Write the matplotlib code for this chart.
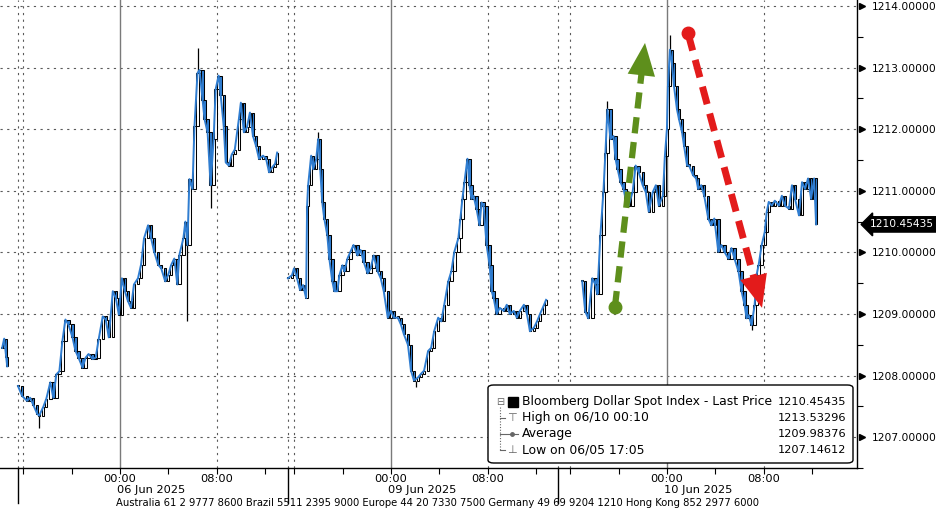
import numpy as np
import matplotlib.pyplot as plt
from matplotlib.patches import FancyBboxPatch
from matplotlib.lines import Line2D
from matplotlib.transforms import blended_transform_factory

plt.rcParams['font.family'] = ['DejaVu Sans']

# Bloomberg intraday axis: hours from 00:00 06 Jun, overnight/weekend gaps squeezed out
session_start = [-30.74, -8.43, 13.88, 36.2]
midnights = [0.0, 22.4, 45.2]
date_labels = ['06 Jun 2025', '09 Jun 2025', '10 Jun 2025']

# 5-minute bar index inside each session and the close of that bar
bars0 = [252, 254, 256, 257]
close0 = [1208.45, 1208.60, 1208.30, 1208.15]

bars1 = [0, 4, 9, 12, 15, 19, 21, 25, 28, 32, 35, 38, 41, 44, 47, 50, 54, 57, 60, 64,
         67, 70, 74, 77, 80, 84, 87, 90, 94, 97, 100, 103, 106, 109, 112, 115, 119, 122, 125, 129,
         132, 135, 139, 142, 146, 149, 152, 155, 158, 160, 164, 166, 168, 170, 173, 175, 178, 180, 183, 185,
         188, 191, 194, 196, 199, 201, 204, 206, 209, 212, 215, 219, 221, 224, 227, 230, 233, 236, 239, 243,
         246, 249, 252, 255, 257]
close1 = [1207.83, 1207.67, 1207.59, 1207.64, 1207.53, 1207.38, 1207.35, 1207.49, 1207.62, 1207.89,
          1207.64, 1208.02, 1208.07, 1208.56, 1208.91, 1208.83, 1208.62, 1208.40, 1208.29, 1208.13,
          1208.29, 1208.35, 1208.27, 1208.29, 1208.59, 1208.96, 1208.91, 1208.62, 1209.37, 1209.26,
          1208.99, 1209.58, 1209.37, 1209.21, 1209.10, 1209.48, 1209.58, 1209.80, 1210.23, 1210.44,
          1210.23, 1210.01, 1209.80, 1209.74, 1209.53, 1209.64, 1209.80, 1209.90, 1209.48, 1209.96,
          1210.23, 1210.50, 1210.12, 1211.19, 1211.03, 1212.05, 1212.91, 1212.96, 1212.48, 1212.16,
          1211.95, 1211.09, 1211.84, 1212.65, 1212.87, 1212.55, 1212.05, 1211.46, 1211.41, 1211.59,
          1211.67, 1212.16, 1212.43, 1211.95, 1212.03, 1212.27, 1211.89, 1211.73, 1211.52, 1211.57,
          1211.52, 1211.30, 1211.38, 1211.44, 1211.62]

bars2 = [0, 4, 6, 9, 12, 15, 18, 19, 20, 23, 25, 28, 30, 32, 34, 36, 39, 41, 44, 46,
         49, 51, 54, 56, 59, 62, 65, 69, 72, 75, 79, 82, 85, 89, 92, 95, 99, 102, 105, 109,
         112, 115, 119, 122, 125, 129, 132, 135, 139, 142, 145, 149, 152, 155, 159, 162, 165, 169, 171, 173,
         175, 178, 180, 182, 184, 187, 190, 192, 194, 197, 200, 202, 204, 207, 210, 214, 217, 220, 224, 227,
         230, 234, 237, 240, 244, 247, 250, 254, 256]
close2 = [1209.58, 1209.63, 1209.74, 1209.58, 1209.39, 1209.47, 1209.26, 1210.76, 1211.09, 1211.57,
          1211.35, 1211.51, 1211.84, 1211.35, 1210.81, 1210.55, 1210.28, 1209.90, 1209.53, 1209.37,
          1209.37, 1209.63, 1209.79, 1209.69, 1209.90, 1210.01, 1210.12, 1209.95, 1210.04, 1209.85,
          1209.66, 1209.74, 1209.95, 1209.69, 1209.58, 1209.37, 1208.94, 1209.05, 1208.94, 1208.94,
          1208.83, 1208.67, 1208.50, 1208.08, 1207.92, 1207.97, 1208.03, 1208.08, 1208.40, 1208.45,
          1208.72, 1208.94, 1208.88, 1209.15, 1209.53, 1209.69, 1210.01, 1210.23, 1210.55, 1210.87,
          1211.14, 1211.52, 1211.09, 1210.87, 1210.92, 1210.71, 1210.44, 1210.81, 1210.76, 1210.12,
          1209.79, 1209.37, 1209.26, 1209.00, 1209.10, 1209.05, 1209.15, 1209.00, 1209.05, 1208.94,
          1209.05, 1209.15, 1209.00, 1208.72, 1208.78, 1208.88, 1209.00, 1209.15, 1209.23]

bars3 = [24, 27, 30, 34, 37, 39, 42, 45, 47, 49, 52, 55, 57, 59, 62, 65, 67, 70, 74, 77,
         80, 84, 87, 90, 94, 97, 100, 104, 106, 108, 109, 111, 113, 115, 118, 120, 123, 125, 128, 130,
         134, 137, 139, 142, 145, 149, 152, 155, 159, 162, 165, 169, 172, 175, 179, 182, 185, 187, 189, 192,
         195, 197, 199, 202, 205, 207, 209, 212, 215, 219, 222, 225, 229, 232, 235, 239, 242, 245, 248, 251,
         254, 256]
close3 = [1209.53, 1209.04, 1208.93, 1209.58, 1209.48, 1209.32, 1210.28, 1210.98, 1211.62, 1212.32,
          1211.84, 1211.89, 1211.52, 1211.36, 1211.14, 1211.03, 1210.87, 1210.76, 1210.98, 1211.41,
          1211.30, 1211.09, 1210.98, 1210.66, 1210.98, 1211.09, 1210.76, 1210.92, 1211.57, 1212.00,
          1212.70, 1213.29, 1213.07, 1212.70, 1212.32, 1212.16, 1211.95, 1211.73, 1211.41, 1211.41,
          1211.25, 1211.20, 1211.03, 1211.09, 1210.92, 1210.55, 1210.44, 1210.55, 1210.01, 1210.12,
          1210.01, 1209.90, 1210.07, 1209.90, 1209.69, 1209.37, 1209.15, 1208.93, 1208.98, 1208.82,
          1209.15, 1209.64, 1209.80, 1210.12, 1210.33, 1210.66, 1210.82, 1210.76, 1210.84, 1210.76,
          1210.92, 1210.76, 1210.71, 1211.09, 1210.87, 1210.60, 1211.14, 1211.03, 1211.20, 1210.87,
          1211.20, 1210.45435]

sessions = [(bars0, close0), (bars1, close1), (bars2, close2), (bars3, close3)]

# long wicks worth showing: (session, bar, extreme price)
wicks = [(1, 21, 1207.15), (1, 168, 1208.88), (1, 178, 1213.32), (1, 191, 1210.72),
         (2, 30, 1211.95), (2, 127, 1207.81), (3, 49, 1212.46), (3, 111, 1213.53), (3, 192, 1208.74)]

last_price = 1210.45435
legend_rows = ['Bloomberg Dollar Spot Index - Last Price', 'High on 06/10 00:10', 'Average', 'Low on 06/05 17:05']
legend_values = ['1210.45435', '1213.53296', '1209.98376', '1207.14612']

# hand drawn arrows: (hours, price) tail -> tip
green_arrow = [(40.9, 1209.11), (43.39, 1213.40)]
red_arrow = [(46.94, 1213.56), (53.06, 1209.10)]

footer = ('Australia 61 2 9777 8600 Brazil 5511 2395 9000 Europe 44 20 7330 7500 '
          'Germany 49 69 9204 1210 Hong Kong 852 2977 6000')

W, H = 937, 508
fig = plt.figure(figsize=(W / 100, H / 100), dpi=100)
ax = fig.add_axes([0, 40 / H, 857 / W, 468 / H])
ax.set_xlim(-9.92, 60.91)
ax.set_ylim(1206.548, 1214.097)

blue = '#2f7dd1'
grid_dots = (0, (2, 4))
grid_col = '#5a5a5a'

# horizontal grid
for p in range(1207, 1215):
    ax.axhline(p, color=grid_col, lw=0.8, ls=grid_dots, zorder=1)

# vertical grid: solid at midnight, dotted at 08:00, 16:00 and session starts
for m in midnights:
    ax.axvline(m, color='#7a7a7a', lw=1.0, zorder=1)
    for off in (-8, 8):
        ax.axvline(m + off, color=grid_col, lw=0.8, ls=grid_dots, zorder=1)
for s in session_start[1:]:
    ax.axvline(s, color=grid_col, lw=0.8, ls=grid_dots, zorder=1)

# candles (open = previous close), down bars filled blue, close line in blue on top
for start, (bars, closes) in zip(session_start, sessions):
    t = start + np.array(bars) / 12.0
    c = np.array(closes)
    o = np.concatenate([[c[0]], c[:-1]])
    lo = np.minimum(o, c)
    hi = np.maximum(o, c)
    face = np.where(c < o, blue, 'white')
    ax.bar(t, np.maximum(hi - lo, 0.02), bottom=lo, width=0.2,
           color=face, edgecolor='black', linewidth=0.75, zorder=3)
    ax.plot(t, c, color=blue, lw=1.4, zorder=4)

for s, b, p in wicks:
    bars, closes = sessions[s]
    i = int(np.argmin(np.abs(np.array(bars) - b)))
    t = session_start[s] + b / 12.0
    ax.vlines(t, min(p, closes[i]), max(p, closes[i]), color='black', lw=0.9, zorder=3)

# arrows
def dashed_arrow(tail, tip, color, lw):
    (x0, y0), (x1, y1) = tail, tip
    bx, by = x0 + 0.9 * (x1 - x0), y0 + 0.9 * (y1 - y0)
    ax.plot([x0, bx], [y0, by], color=color, lw=lw, dashes=(2.6, 1.4), zorder=5,
            solid_capstyle='butt', dash_capstyle='butt')
    ax.plot([x0], [y0], 'o', color=color, ms=9, zorder=5)
    hx, hy = x0 + 0.8 * (x1 - x0), y0 + 0.8 * (y1 - y0)
    ax.annotate('', xy=(x1, y1), xytext=(hx, hy), zorder=6,
                arrowprops=dict(arrowstyle='-|>,head_length=1.3,head_width=0.55',
                                color=color, lw=0, mutation_scale=18, shrinkA=0, shrinkB=0))

dashed_arrow(*green_arrow, '#5e8f1c', 4.5)
dashed_arrow(*red_arrow, '#e31b1b', 5)

# spines
for side in ('left', 'top'):
    ax.spines[side].set_visible(False)
for side in ('right', 'bottom'):
    ax.spines[side].set_color('black')
    ax.spines[side].set_linewidth(1.0)

# y axis on the right
yt = np.arange(1207, 1215)
ax.yaxis.tick_right()
ax.set_yticks(yt)
ax.set_yticklabels([f'{v:.5f}' for v in yt])
ax.set_yticks(np.arange(1206.5, 1214, 1.0), minor=True)
ax.tick_params(axis='y', which='major', length=0, pad=11, labelsize=7.7)
ax.tick_params(axis='y', which='minor', length=4, width=0.8, direction='out')
ybl = blended_transform_factory(ax.transAxes, ax.transData)
ax.plot(np.full(len(yt), 1.0058), yt, ls='none', marker='>', ms=5, color='black',
        transform=ybl, clip_on=False)

# last price tag
ax.annotate(f'{last_price:.5f}', xy=(1.0, last_price), xycoords=ybl, xytext=(9, 0),
            textcoords='offset points', va='center', ha='left', color='white', fontsize=7.7,
            bbox=dict(boxstyle='larrow,pad=0.25', fc='black', ec='black'), annotation_clip=False)

# x axis
ticks, labels = [], []
for m in midnights:
    for k in range(-2, 4):
        ticks.append(m + 4 * k)
        labels.append({0: '00:00', 2: '08:00'}.get(k, ''))
ax.set_xticks(ticks)
ax.set_xticklabels(labels)
ax.tick_params(axis='x', length=4, width=0.8, pad=0.5, labelsize=8.2, direction='out')
xbl = blended_transform_factory(ax.transData, ax.transAxes)
for s in session_start[1:]:
    ax.plot([s, s], [0, -0.075], color='black', lw=1.0, transform=xbl, clip_on=False)
for m, d in zip(midnights, date_labels):
    ax.text(m + 2.6, -0.047, d, transform=xbl, ha='center', va='center', fontsize=8.2)

fig.text(116 / W, 1 - 508 / H, footer, ha='left', va='bottom', fontsize=7.2)

# legend box
def fx(px):
    return px / W

def fy(py):
    return 1 - py / H

box = FancyBboxPatch((fx(488), fy(463)), 365 / W, 78 / H, transform=fig.transFigure,
                     boxstyle='round,pad=0,rounding_size=0.006', fc='white', ec='black', lw=1.0, zorder=10)
fig.add_artist(box)
rows_y = [402, 418, 434, 450]
gray = '#666666'
fig.add_artist(Line2D([fx(500), fx(500)], [fy(407), fy(450)], transform=fig.transFigure,
                      color=gray, lw=0.8, ls=(0, (1, 1.5)), zorder=11))
for ry in rows_y[1:]:
    fig.add_artist(Line2D([fx(500), fx(505)], [fy(ry), fy(ry)], transform=fig.transFigure,
                          color=gray, lw=0.8, zorder=11))
fig.text(fx(500), fy(rows_y[0]), '\u229f', ha='center', va='center', fontsize=7, color=gray, zorder=12)
fig.add_artist(FancyBboxPatch((fx(508), fy(rows_y[0] + 5)), 10 / W, 10 / H, transform=fig.transFigure,
                              boxstyle='square,pad=0', fc='black', ec='black', zorder=12))
fig.text(fx(512), fy(rows_y[1]), '\u22a4', ha='center', va='center', fontsize=8, color=gray, zorder=12)
fig.add_artist(Line2D([fx(506), fx(518)], [fy(rows_y[2]), fy(rows_y[2])], transform=fig.transFigure,
                      color=gray, lw=0.8, zorder=12))
fig.add_artist(Line2D([fx(512)], [fy(rows_y[2])], transform=fig.transFigure,
                      color=gray, marker='o', ms=2.5, ls='none', zorder=12))
fig.text(fx(512), fy(rows_y[3]), '\u22a5', ha='center', va='center', fontsize=8, color=gray, zorder=12)
for ry, name, val in zip(rows_y, legend_rows, legend_values):
    fig.text(fx(522), fy(ry), name, ha='left', va='center', fontsize=8.9, zorder=12)
    fig.text(fx(846), fy(ry), val, ha='right', va='center', fontsize=8.2, zorder=12)

fig.savefig('out.png', dpi=100)
